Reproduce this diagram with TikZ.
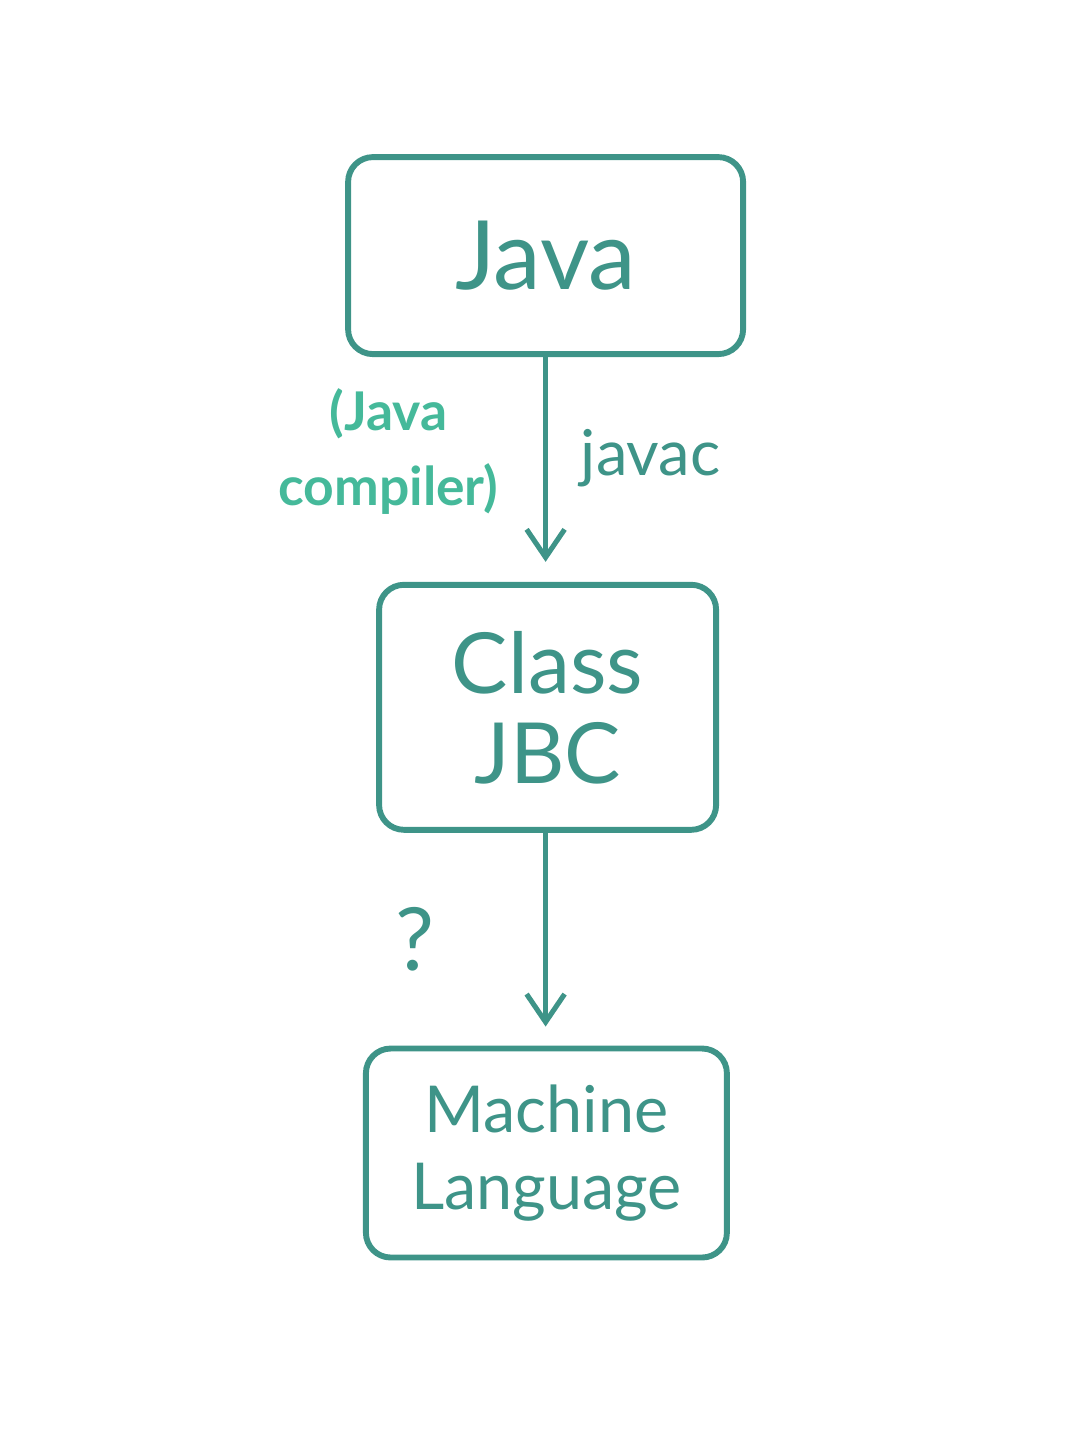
\documentclass[tikz,border=0pt]{standalone}
\usepackage{fontspec}
\setmainfont{Lato}
\usepackage{tikz}
\usetikzlibrary{arrows.meta,positioning}
\definecolor{boxteal}{HTML}{3E9488}
\definecolor{labelteal}{HTML}{45B99A}
\tikzset{
    stage/.style={draw=boxteal,line width=4.2pt,rounded corners=0.62cm,
        text=boxteal,align=center,inner sep=0pt},
    flow/.style={draw=boxteal,line width=3.6pt,
        -{Straight Barb[length=0.7cm,width=0.95cm,line width=3.6pt]}}
}

\begin{document}
\begin{tikzpicture}
    \useasboundingbox (0,0) rectangle (27.1,-36.2);
    \node[stage,minimum width=9.875cm,minimum height=4.925cm,
        font=\fontsize{68}{72}\selectfont] (java) at (13.64,-6.39) {Java};
    \node[stage,minimum width=8.425cm,minimum height=6.125cm,
        font=\fontsize{60}{64}\selectfont,below=5.62cm of java,xshift=0.05cm] (class) {Class\\JBC};
    \node[stage,minimum width=9.025cm,minimum height=5.225cm,
        font=\fontsize{46}{55}\selectfont,below=5.32cm of class,xshift=-0.03cm] (machine) {Machine\\Language};

    \draw[flow,shorten >=0.5cm] (java.south) -- (java.south |- class.north)
        node[pos=0.45,right=0.7cm,text=boxteal,font=\fontsize{45}{50}\selectfont] (javac) {javac}
        node[pos=0.42,left=1cm,text=labelteal,align=center,
            font=\bfseries\fontsize{38}{53}\selectfont] (compiler) {(Java\\compiler)};
    \draw[flow,shorten >=0.475cm] (java.south |- class.south) -- (java.south |- machine.north)
        node[midway,left=2.6cm,text=boxteal,font=\fontsize{62}{66}\selectfont] (unknown) {?};
\end{tikzpicture}
\end{document}
